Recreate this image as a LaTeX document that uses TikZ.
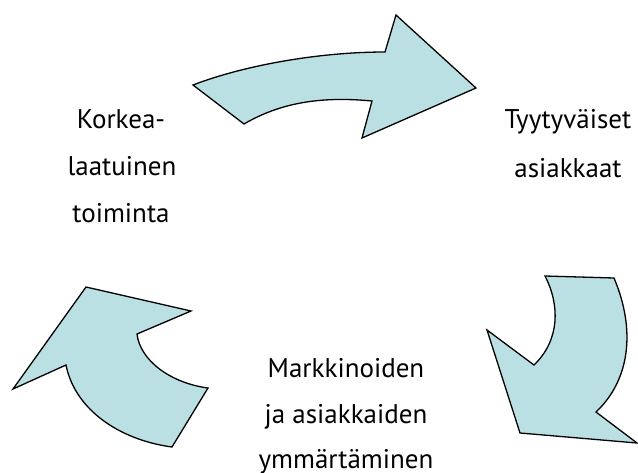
\documentclass[tikz,border=0pt]{standalone}
\usepackage{fontspec}
\setmainfont{PT Sans}
\definecolor{arrowfill}{RGB}{187,224,227}
\tikzset{
  cyclearrow/.style={draw=black, fill=arrowfill, line width=1.3pt, line join=miter},
  lbl/.style={anchor=base, inner sep=0pt, font=\fontsize{27}{31}\selectfont}
}
\begin{document}
\begin{tikzpicture}[x=1pt, y=-1pt]
\useasboundingbox (0,0) rectangle (638,472);

% upper curved arrow
\path[cyclearrow] (193,85) .. controls (245,65) and (320,52) .. (385,52)
  -- (396,15) -- (476,88) -- (362,138) -- (372,101)
  .. controls (320,96) and (280,103) .. (244,124) -- cycle;

% right curved arrow, pointing down-left
\path[cyclearrow] (545,276) -- (614,278)
  .. controls (636,330) and (630,380) .. (596,412)
  -- (637,443) -- (520,433) -- (487,330) -- (534,365)
  .. controls (560,340) and (560,305) .. (545,276) -- cycle;

% left curved arrow, pointing up-left
\path[cyclearrow] (86,287) -- (191,311) -- (137,334)
  .. controls (140,360) and (170,383) .. (208,388)
  -- (172,447) .. controls (120,440) and (75,410) .. (66,365)
  -- (13,389) -- cycle;

% labels
\node[lbl] (k1) at (121,128) {Korkea-};
\node[lbl] (k2) at (122,175) {laatuinen};
\node[lbl] (k3) at (121,222) {toiminta};

\node[lbl] (t1) at (568,128) {Tyytyväiset};
\node[lbl] (t2) at (568,177) {asiakkaat};

\node[lbl] (m1) at (346,377) {Markkinoiden};
\node[lbl] (m2) at (346,423) {ja asiakkaiden};
\node[lbl] (m3) at (346,468) {ymmärtäminen};
\end{tikzpicture}
\end{document}
